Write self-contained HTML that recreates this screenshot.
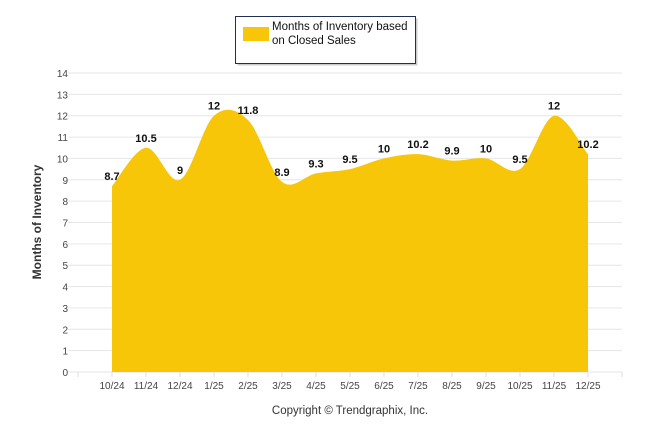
<!DOCTYPE html>
<html><head><meta charset="utf-8"><style>
body{margin:0;background:#fff;width:646px;height:434px;overflow:hidden;font-family:"Liberation Sans",sans-serif}
</style></head><body>
<svg width="646" height="434" id="c">
<g>
<rect x="237.5" y="18.5" width="180" height="47" fill="#ccc" stroke="none"/>
<rect x="235.5" y="16.5" width="180" height="47" fill="#fff" stroke="#1f2f55"/>
<rect x="243" y="27" width="26" height="14" fill="#f7c608"/>
<text x="272" y="30" font-size="11.5" fill="#111"><tspan x="272" y="30">Months of Inventory based</tspan><tspan x="272" y="44">on Closed Sales</tspan></text>
</g>
<g id="grid"></g>
<g id="area"></g>
<g id="labels"></g>
<text transform="translate(41,222) rotate(-90)" text-anchor="middle" font-size="12" font-weight="bold" fill="#333">Months of Inventory</text>
<text x="350" y="414" text-anchor="middle" font-size="11.5" fill="#333">Copyright © Trendgraphix, Inc.</text>
</svg>
<script>
const categories=["10/24","11/24","12/24","1/25","2/25","3/25","4/25","5/25","6/25","7/25","8/25","9/25","10/25","11/25","12/25"];
const values=[8.7,10.5,9,12,11.8,8.9,9.3,9.5,10,10.2,9.9,10,9.5,12,10.2];
const yTicks=[0,1,2,3,4,5,6,7,8,9,10,11,12,13,14];
const NS="http://www.w3.org/2000/svg";
const L=78,R=622,slot=34,y0=372,unit=(372-73)/14;
const xs=i=>L+slot*(i+1);
const ys=v=>y0-v*unit;
function mk(t,a,p){const e=document.createElementNS(NS,t);for(const k in a)e.setAttribute(k,a[k]);p.appendChild(e);return e;}
const g=document.getElementById('grid');
yTicks.forEach(t=>{
 const l=mk('line',{x1:68,x2:R,y1:ys(t),y2:ys(t),stroke:'#e6e6e6'},g);
 
 
 const tx=mk('text',{x:68,y:ys(t)+4,'text-anchor':'end','font-size':10,fill:'#444'},g);tx.textContent=t;
 
 
});
for(let i=0;i<=16;i++){const tk=mk('line',{x1:L+slot*i,x2:L+slot*i,y1:y0,y2:y0+5,stroke:'#ddd'},g);
 
 }
categories.forEach((c,i)=>{const t=mk('text',{x:xs(i),y:y0+17,'text-anchor':'middle','font-size':10,fill:'#444'},g);t.textContent=c;
 
 });
const P=values.map((v,i)=>[xs(i),ys(v)]);
let d=`M${P[0][0]},${y0}L${P[0][0]},${P[0][1]}`;
for(let i=0;i<P.length-1;i++){
 const p0=P[i-1]||P[i],p1=P[i],p2=P[i+1],p3=P[i+2]||P[i+1],k=1/6;
 d+=`C${p1[0]+(p2[0]-p0[0])*k},${p1[1]+(p2[1]-p0[1])*k} ${p2[0]-(p3[0]-p1[0])*k},${p2[1]-(p3[1]-p1[1])*k} ${p2[0]},${p2[1]}`;
}
d+=`L${P[P.length-1][0]},${y0}Z`;
const a=mk('path',{d:d,fill:'#f7c608'},document.getElementById('area'));


const lb=document.getElementById('labels');
values.forEach((v,i)=>{const t=mk('text',{x:xs(i),y:ys(v)-6,'text-anchor':'middle','font-size':11,'font-weight':'bold',fill:'#111'},lb);t.textContent=v;
 
 });
</script>
</body></html>
